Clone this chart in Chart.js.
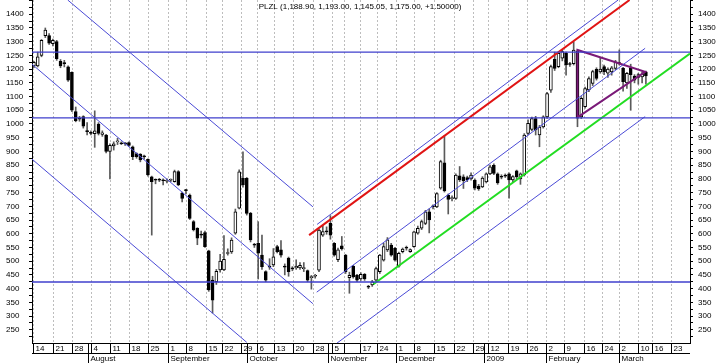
<!DOCTYPE html>
<html>
<head>
<meta charset="utf-8">
<style>
  html, body { margin: 0; padding: 0; background: #ffffff; }
  #wrap { width: 720px; height: 363px; position: relative; }
</style>
<script src="https://cdn.jsdelivr.net/npm/chart.js@4.4.1/dist/chart.umd.min.js"></script>
</head>
<body>
<div id="wrap"><canvas id="chart"></canvas></div>
<script>
// daily candles, one per trading day starting 14 July 2008
const openVals = [1212,1212,1250,1322,1322,1293,1300,1228,1222,1208,1188,1045,1020,1027,975,968,965,1000,962,960,
  900,920,935,930,930,932,917,892,890,883,871,807,796,797,795,792,795,790,827,748,
  758,741,644,620,596,604,538,431,425,468,468,528,534,602,693,802,802,674,560,565,
  522,462,480,486,553,541,480,511,474,475,475,473,466,440,445,467,595,608,638,565,
  505,556,522,440,482,449,435,452,406,413,431,462,504,541,559,547,482,535,548,535,
  553,602,620,638,680,700,698,766,858,741,728,729,811,807,805,800,796,774,771,789,
  818,849,818,807,811,818,796,829,800,814,966,980,1020,960,989,1026,1123,1236,1209,1240,
  1258,1218,1220,1266,1026,1063,1124,1148,1199,1190,1209,1185,1190,1203,1222,1203,1150,1205,1175,1170,
  1172,1188.9];
const highVals = [1228,1262,1308,1350,1330,1310,1305,1235,1232,1212,1190,1062,1028,1030,1005,975,1048,1005,975,962,
  928,935,948,935,932,935,920,895,892,887,873,810,800,802,800,800,800,832,830,752,
  762,745,648,622,610,610,540,445,470,525,593,545,585,690,833,899,805,678,565,644,
  595,465,509,546,558,575,490,515,480,505,495,495,468,448,452,618,630,625,666,568,
  548,590,525,460,485,452,458,455,412,430,478,525,565,586,565,550,533,548,555,545,
  610,628,650,685,690,705,750,868,958,745,738,818,845,815,810,822,800,780,808,822,
  850,855,822,815,818,822,812,832,822,965,1015,1025,1028,995,1030,1115,1215,1262,1262,1270,
  1262,1225,1300,1270,1100,1135,1172,1196,1205,1243,1215,1205,1210,1232,1270,1207,1188,1218,1180,1185,
  1190,1193];
const lowVals = [1205,1208,1245,1315,1290,1285,1232,1205,1208,1155,1045,1008,1010,985,960,960,915,960,955,895,
  800,905,925,925,922,918,870,875,862,872,810,595,782,790,778,785,790,788,775,716,
  745,652,610,560,585,550,390,311,415,460,465,522,528,598,690,770,668,570,550,435,
  470,425,470,480,530,515,450,445,465,470,470,462,425,398,438,462,590,598,580,518,
  498,540,455,383,438,425,430,430,400,408,428,455,500,535,518,500,478,530,540,532,
  550,598,615,633,603,690,695,762,752,672,720,725,790,765,790,795,760,758,768,785,
  815,815,780,800,805,730,790,800,780,810,960,975,960,917,985,1020,1115,1195,1205,1230,
  1178,1210,1215,990,1020,1058,1118,1140,1160,1185,1180,1170,1178,1198,1215,1120,1130,1050,1150,1145,
  1150,1145.05];
const closeVals = [1225,1245,1305,1342,1295,1305,1238,1212,1220,1160,1050,1012,1018,992,972,966,975,966,968,900,
  922,928,938,928,928,922,881,881,869,880,814,790,795,795,793,796,797,827,778,729,
  757,656,614,584,595,553,395,358,463,500,507,531,577,680,826,778,674,577,558,529,
  480,431,478,516,535,522,478,462,472,482,485,474,431,442,446,613,608,607,595,522,
  541,545,462,448,443,431,452,435,405,425,473,522,553,578,522,504,529,544,547,542,
  607,620,644,680,650,698,746,863,756,725,732,814,796,793,796,814,766,763,803,818,
  844,820,785,806,810,796,808,807,818,960,1002,1020,978,989,1026,1111,1209,1203,1258,1264,
  1215,1217,1269,1021,1094,1129,1166,1191,1166,1200,1191,1200,1205,1227,1220,1154,1185,1180,1160,1180,
  1182,1175];
const lastChange = "+1.50000";

// weekly ticks (trading-day index) and labels of the date axis
const weekTicks = [-0.2,5.1,10.1,14.9,20,24.9,30.1,35.2,40,45.3,49.4,54.4,58.6,63.2,68.2,73.3,78.3,81.6,85.8,90.3,
  95.3,100.1,105.3,110.5,115.6,119.4,124.6,129.7,134.7,139.5,144.6,149.4,154,159,162.7,167.6];
const weekLabels = ["14","21","28","4","11","18","25","1","8","15","22","29","6","13","20","28","5","","17","24",
  "1","8","15","22","29","12","19","26","2","9","16","24","2","10","16","23"];
const monthStarts = [14.3,35.2,56.1,77.4,95.3,118.5,134.7,154];
const monthLabels = ["August","September","October","November","December","2009","February","March"];

// price ticks
const yTickValues = [];
for (let v = 225; v <= 1450; v += 25) yTickValues.push(v);

// drawn studies: [day index, price] end points
const levelLines = [1262, 1022, 424];
const downChannelTop = [[8.9, 1452], [73.4, 698]];
const downChannelMid = [[-0.5, 1218], [73.4, 345]];
const downChannelLow = [[-0.5, 872], [56, 204]];
const upChannelTop = [[74.5, 634], [153.7, 1452]];
const upChannelMid = [[74.4, 387], [160.8, 1276]];
const upChannelLow = [[79.7, 201], [160.8, 1027]];
const redTrend = [[72.4, 595], [156.7, 1452]];
const greenTrend = [[89.3, 416], [172.6, 1257]];
const trianglePts = [[143, 1024], [143, 1270], [160.8, 1190], [143, 1024]];

const xMin = -0.5;
const xMax = 172.6;
const yMin = 201.7;
const yMax = 1452;

const fontFamily = "\"Liberation Sans\", Arial, sans-serif";
const days = openVals.map((_, i) => i);

function fmt(v) {
  return v.toLocaleString("en-US", { minimumFractionDigits: 2, maximumFractionDigits: 2 });
}
const last = openVals.length - 1;
const titleText = `PLZL (${fmt(openVals[last])}, ${fmt(highVals[last])}, ${fmt(lowVals[last])}, ${fmt(closeVals[last])}, ${lastChange})`;

function studyLine(points, color, width) {
  return {
    type: "line",
    data: points.map(([x, y]) => ({ x, y })),
    borderColor: color,
    borderWidth: width,
    pointRadius: 0,
    fill: false,
    tension: 0,
    order: 0
  };
}

const blue = "#4b4bd6";
const datasets = [
  ...levelLines.map((lv) => studyLine([[xMin, lv], [xMax, lv]], "#3f3fcc", 1.3)),
  studyLine(downChannelTop, blue, 1),
  studyLine(downChannelMid, blue, 1),
  studyLine(downChannelLow, blue, 1),
  studyLine(upChannelTop, blue, 1),
  studyLine(upChannelMid, blue, 1),
  studyLine(upChannelLow, blue, 1),
  studyLine(redTrend, "#e01414", 2),
  studyLine(greenTrend, "#22dd22", 2),
  studyLine(trianglePts, "#7a1a78", 2),
  {
    type: "bar",
    data: days.map((i) => ({ x: i, y: [Math.min(openVals[i], closeVals[i]), Math.max(openVals[i], closeVals[i])] })),
    backgroundColor: days.map((i) => closeVals[i] >= openVals[i] ? "#ffffff" : "#000000"),
    borderColor: "#000000",
    borderWidth: 1,
    borderSkipped: false,
    barThickness: 3,
    minBarLength: 1,
    grouped: false,
    order: 1
  },
  {
    type: "bar",
    data: days.map((i) => ({ x: i, y: [lowVals[i], highVals[i]] })),
    backgroundColor: "#5a5a5a",
    barThickness: 1,
    grouped: false,
    order: 2
  }
];

// dashed week grid, date axis box and the title line
const chartDecor = {
  id: "chartDecor",
  beforeDatasetsDraw(chart) {
    const { ctx, chartArea: area, scales: { x } } = chart;
    ctx.save();
    ctx.strokeStyle = "#bdbdbd";
    ctx.lineWidth = 1;
    ctx.setLineDash([2, 2]);
    weekTicks.forEach((t) => {
      const px = Math.round(x.getPixelForValue(t)) + 0.5;
      ctx.beginPath();
      ctx.moveTo(px, area.top);
      ctx.lineTo(px, area.bottom);
      ctx.stroke();
    });
    ctx.restore();
  },
  afterDraw(chart) {
    const { ctx, chartArea: area, scales: { x } } = chart;
    const top = Math.round(area.bottom);
    ctx.save();
    ctx.strokeStyle = "#000000";
    ctx.lineWidth = 1;
    ctx.beginPath();
    ctx.moveTo(area.left, top + 0.5);
    ctx.lineTo(area.right, top + 0.5);
    ctx.moveTo(area.left, top + 10.5);
    ctx.lineTo(area.right, top + 10.5);
    ctx.stroke();

    ctx.font = "8px " + fontFamily;
    ctx.fillStyle = "#000000";
    ctx.textAlign = "left";
    ctx.textBaseline = "middle";
    weekTicks.forEach((t, k) => {
      const px = Math.round(x.getPixelForValue(t)) + 0.5;
      ctx.beginPath();
      ctx.moveTo(px, top);
      ctx.lineTo(px, top + 10);
      ctx.stroke();
      ctx.fillText(weekLabels[k], px + 2, top + 6);
    });
    monthStarts.forEach((t, k) => {
      const px = Math.round(x.getPixelForValue(t)) + 0.5;
      ctx.beginPath();
      ctx.moveTo(px, top);
      ctx.lineTo(px, top + 20);
      ctx.stroke();
      ctx.fillText(monthLabels[k], px + 2, top + 16);
    });

    ctx.textAlign = "center";
    ctx.fillText(titleText, 360, 7);
    ctx.restore();
  }
};

function yAxis(position, width) {
  return {
    type: "linear",
    position: position,
    min: yMin,
    max: yMax,
    afterBuildTicks(scale) {
      scale.ticks = yTickValues.map((v) => ({ value: v }));
    },
    afterFit(scale) {
      scale.width = width;
      scale.paddingTop = 0;
      scale.paddingBottom = 0;
    },
    grid: {
      display: true,
      drawOnChartArea: false,
      drawTicks: true,
      tickLength: 3,
      color: "#000000"
    },
    border: { display: true, color: "#000000", width: 1 },
    ticks: {
      color: "#000000",
      padding: 5,
      autoSkip: false,
      crossAlign: position === "left" ? "far" : "near",
      font: { family: fontFamily, size: 8 },
      callback(value) {
        return value % 50 === 0 && value >= 250 && value <= 1400 ? String(value) : "";
      }
    }
  };
}

new Chart(document.getElementById("chart"), {
  type: "bar",
  data: { datasets },
  plugins: [chartDecor],
  options: {
    responsive: true,
    maintainAspectRatio: false,
    animation: false,
    devicePixelRatio: 1,
    layout: { padding: { left: 6, right: 0, top: 0, bottom: 20 } },
    plugins: {
      legend: { display: false },
      tooltip: { enabled: false },
      title: { display: false }
    },
    scales: {
      x: {
        type: "linear",
        min: xMin,
        max: xMax,
        offset: false,
        grid: { display: false },
        border: { display: false },
        ticks: { display: false },
        afterFit(scale) {
          scale.height = 0;
          scale.paddingLeft = 0;
          scale.paddingRight = 0;
        }
      },
      y: yAxis("left", 26),
      y2: yAxis("right", 30)
    }
  }
});
</script>
</body>
</html>
